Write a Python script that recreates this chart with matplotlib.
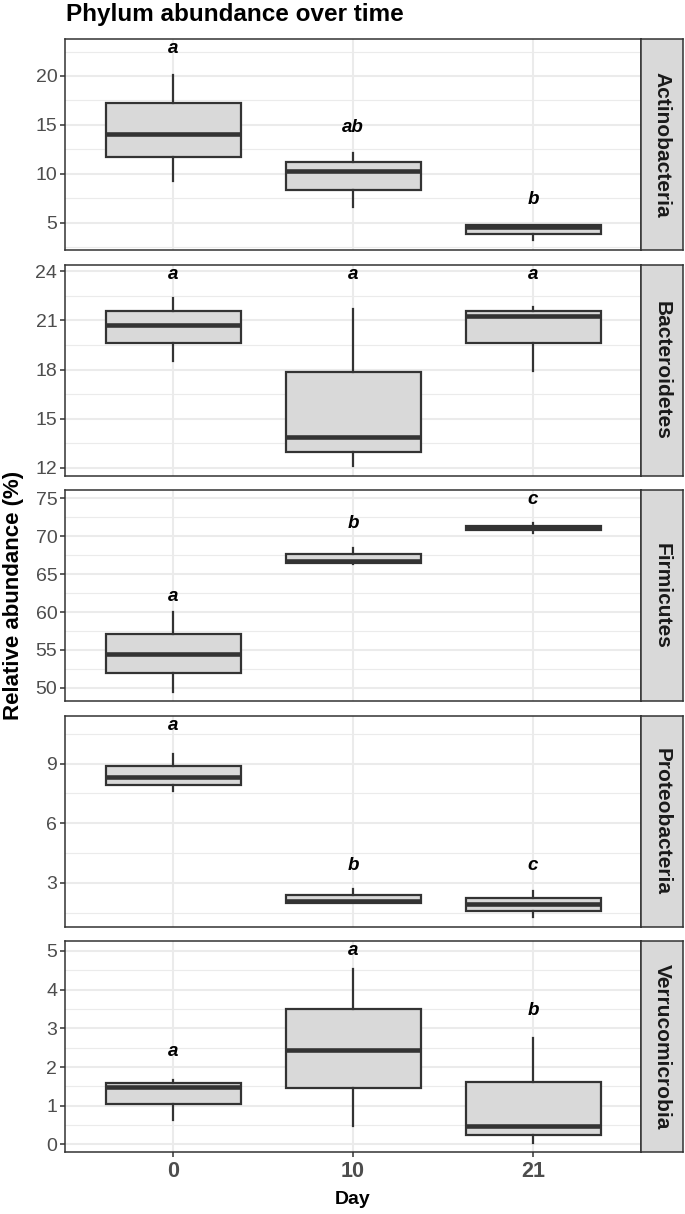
import matplotlib.pyplot as plt
from matplotlib.ticker import MultipleLocator

plt.rcParams['font.family'] = ['Liberation Sans', 'DejaVu Sans']

days = ['0', '10', '21']
phyla = ['Actinobacteria', 'Bacteroidetes', 'Firmicutes', 'Proteobacteria', 'Verrucomicrobia']

# box statistics per phylum, one value per day (0, 10, 21)
whis_low = [[9.3, 6.6, 3.2], [18.5, 12.1, 17.9], [49.5, 66.3, 70.4], [7.6, 2.0, 1.28], [0.62, 0.48, 0.04]]
q1 = [[11.7, 8.4, 3.9], [19.6, 12.95, 19.6], [52.0, 66.5, 70.8], [7.94, 2.0, 1.58], [1.05, 1.46, 0.25]]
median = [[14.1, 10.3, 4.6], [20.7, 13.88, 21.3], [54.4, 66.7, 71.1], [8.35, 2.1, 1.92], [1.48, 2.43, 0.47]]
q3 = [[17.2, 11.25, 4.75], [21.56, 17.83, 21.56], [57.1, 67.7, 71.4], [8.9, 2.41, 2.26], [1.59, 3.49, 1.62]]
whis_high = [[20.1, 12.1, 4.8], [22.39, 21.7, 21.81], [59.95, 68.45, 71.7], [9.46, 2.71, 2.61], [1.67, 4.53, 2.74]]

letters = [['a', 'ab', 'b'], ['a', 'a', 'a'], ['a', 'b', 'c'], ['a', 'b', 'c'], ['a', 'a', 'b']]
letter_y = [[22.8, 14.7, 7.35], [23.83, 23.83, 23.83], [62.1, 71.7, 74.8], [10.92, 3.89, 3.89], [2.41, 5.0, 3.47]]

major_step = [5, 3, 5, 3, 1]

W, H = 685, 1214
fig = plt.figure(figsize=(W / 100, H / 100), dpi=100)

edge = '#333333'
panel_h = 211
gap = 14.6
top0 = 39

for i, name in enumerate(phyla):
    top = top0 + i * (panel_h + gap)
    y0 = 1 - (top + panel_h) / H
    ax = fig.add_axes([65 / W, y0, 576 / W, panel_h / H])
    sax = fig.add_axes([641 / W, y0, 42 / W, panel_h / H])

    stats = []
    for j in range(3):
        stats.append({'med': median[i][j], 'q1': q1[i][j], 'q3': q3[i][j],
                      'whislo': whis_low[i][j], 'whishi': whis_high[i][j], 'fliers': []})
    ax.bxp(stats, positions=range(3), widths=0.75, patch_artist=True, showcaps=False,
           boxprops=dict(facecolor='#D9D9D9', edgecolor=edge, linewidth=1.6),
           medianprops=dict(color=edge, linewidth=3.3, solid_capstyle='butt'),
           whiskerprops=dict(color=edge, linewidth=1.6))

    for j in range(3):
        ax.text(j, letter_y[i][j], letters[i][j], ha='center', va='center',
                fontsize=13.5, fontweight='bold', fontstyle='italic')

    lo = min(whis_low[i])
    hi = max(letter_y[i])
    pad = (hi - lo) * 0.05
    ax.set_ylim(lo - pad, hi + pad)
    ax.set_xlim(-0.6, 2.6)
    ax.yaxis.set_major_locator(MultipleLocator(major_step[i]))
    ax.yaxis.set_minor_locator(MultipleLocator(major_step[i] / 2))
    ax.set_xticks(range(3))
    ax.set_xticklabels(days)

    ax.set_axisbelow(True)
    ax.grid(which='major', color='#EBEBEB', linewidth=1.5)
    ax.grid(which='minor', axis='y', color='#EBEBEB', linewidth=0.8)
    for s in ax.spines.values():
        s.set_color(edge)
        s.set_linewidth(1.1)
    ax.tick_params(axis='y', which='major', direction='out', length=3.5, width=1.1,
                   color=edge, labelcolor='#4D4D4D', labelsize=14, pad=2)
    ax.tick_params(axis='y', which='minor', length=0)
    if i < len(phyla) - 1:
        ax.tick_params(axis='x', length=0, labelbottom=False)
    else:
        ax.tick_params(axis='x', direction='out', length=3.5, width=1.1, color=edge,
                       labelcolor='#4D4D4D', labelsize=15.5, pad=3)
        for lbl in ax.get_xticklabels():
            lbl.set_fontweight('bold')

    sax.set_facecolor('#D9D9D9')
    sax.set_xticks([])
    sax.set_yticks([])
    for s in sax.spines.values():
        s.set_color(edge)
        s.set_linewidth(1.1)
    sax.text(0.5, 0.5, name, rotation=270, ha='center', va='center',
             fontsize=15, fontweight='bold', color='#1A1A1A', transform=sax.transAxes)

fig.text(66 / W, 1 - 21 / H, 'Phylum abundance over time', ha='left', va='baseline',
         fontsize=17.5, fontweight='bold')
fig.text(14 / W, 1 - 595.5 / H, 'Relative abundance (%)', rotation=90, ha='center',
         va='center', fontsize=16, fontweight='bold')
fig.text(353 / W, 1 - 1199 / H, 'Day', ha='center', va='center', fontsize=14,
         fontweight='bold')

fig.savefig('out.png', dpi=100)
